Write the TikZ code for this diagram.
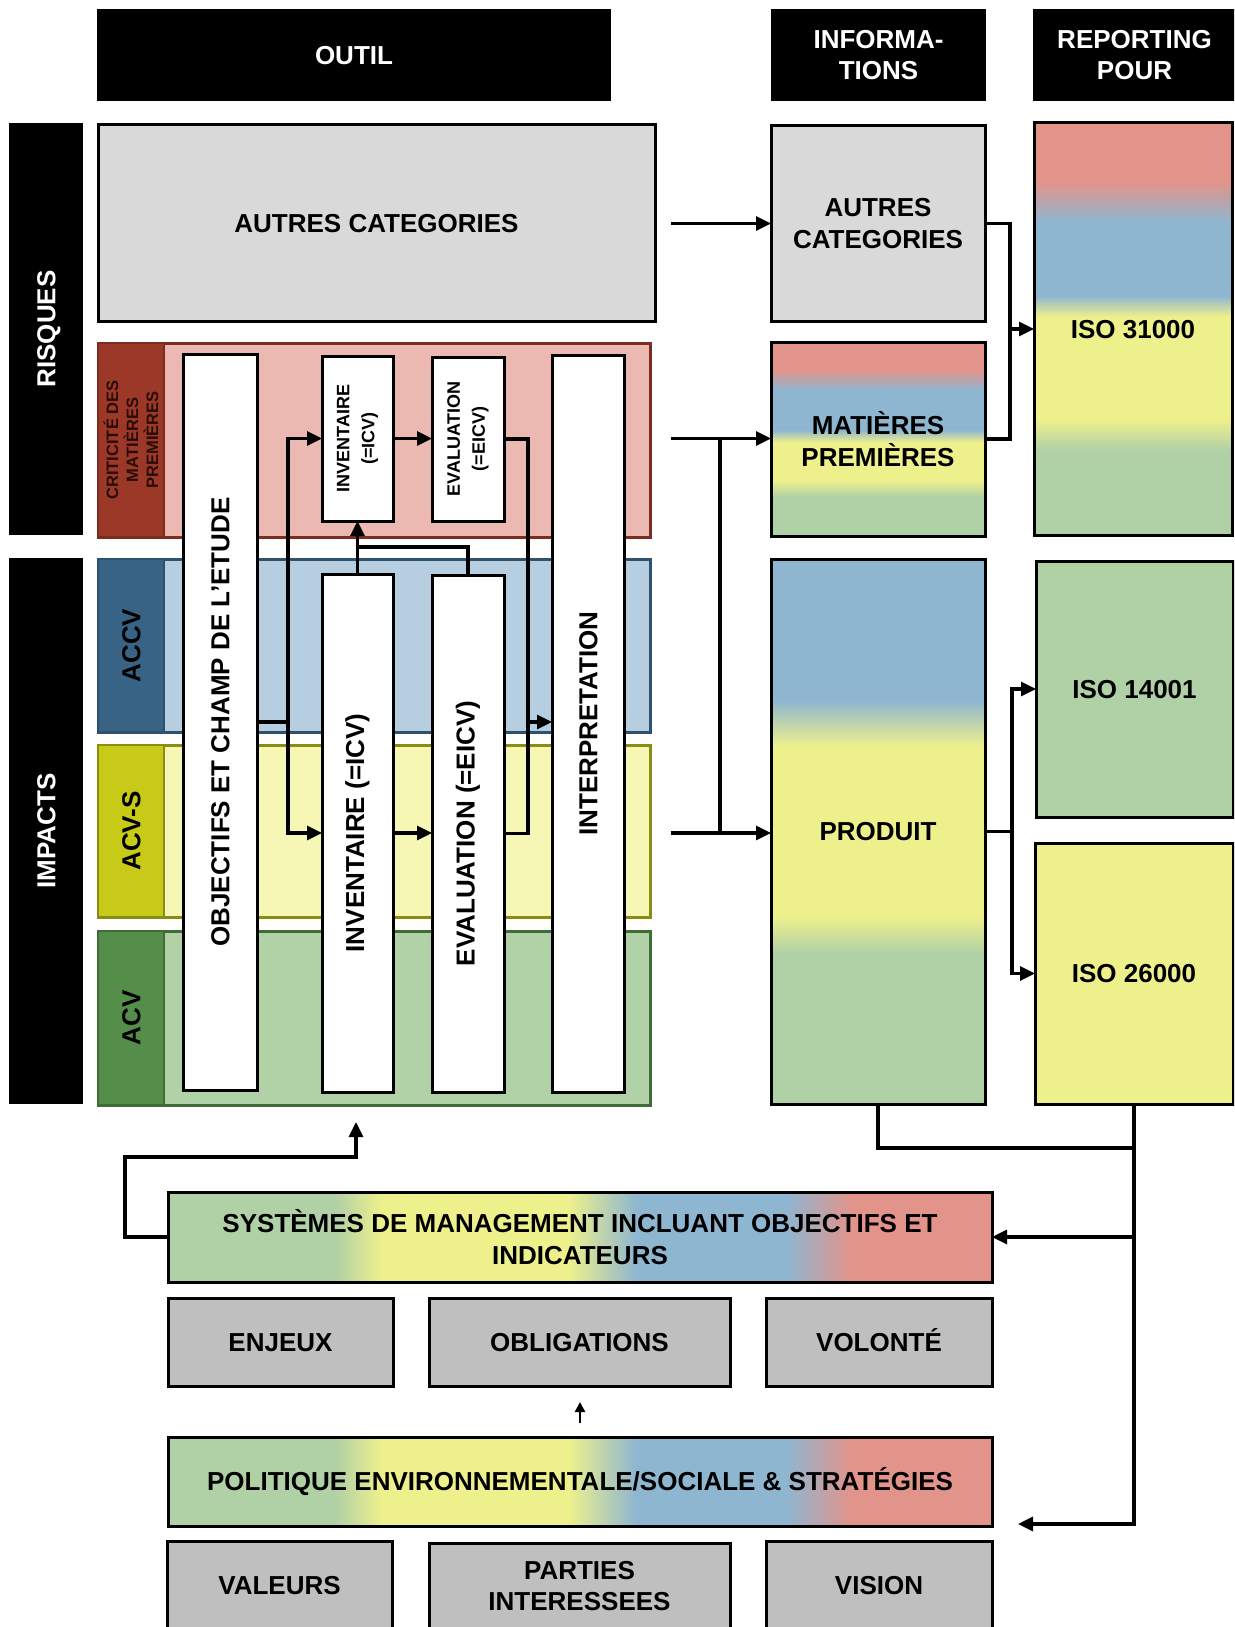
\documentclass[tikz,border=0pt]{standalone}
\usepackage{fontspec}
\setmainfont{Liberation Sans}
\usetikzlibrary{arrows.meta}
\definecolor{cred}{HTML}{E2938A}
\definecolor{cblue}{HTML}{8FB6D0}
\definecolor{cyellow}{HTML}{EEF08C}
\definecolor{cgreen}{HTML}{B0D0A6}
\definecolor{lgray}{HTML}{D9D9D9}
\definecolor{mgray}{HTML}{BFBFBF}
\definecolor{rfill}{HTML}{EBB8B2}
\definecolor{rstrip}{HTML}{9C3828}
\definecolor{rborder}{HTML}{7C2C20}
\definecolor{bfill}{HTML}{B7CEE1}
\definecolor{bstrip}{HTML}{386384}
\definecolor{bborder}{HTML}{2E516E}
\definecolor{yfill}{HTML}{F6F6B5}
\definecolor{ystrip}{HTML}{C8CA18}
\definecolor{yborder}{HTML}{8B8C12}
\definecolor{gfill}{HTML}{B1D1A7}
\definecolor{gstrip}{HTML}{558D4A}
\definecolor{gborder}{HTML}{3F6C37}
\definecolor{critxt}{HTML}{2A0C06}
\pgfdeclareverticalshading{matgrad}{100bp}{color(0bp)=(cgreen); color(35bp)=(cgreen); color(39.4bp)=(cyellow); color(49.2bp)=(cyellow); color(52.3bp)=(cblue); color(62.6bp)=(cblue); color(67.8bp)=(cred); color(100bp)=(cred)}
\pgfdeclareverticalshading{isograd}{100bp}{color(0bp)=(cgreen); color(35.2bp)=(cgreen); color(39.1bp)=(cyellow); color(51.5bp)=(cyellow); color(54bp)=(cblue); color(63bp)=(cblue); color(67.8bp)=(cred); color(100bp)=(cred)}
\pgfdeclareverticalshading{prodgrad}{100bp}{color(0bp)=(cgreen); color(38.85bp)=(cgreen); color(42.2bp)=(cyellow); color(57.8bp)=(cyellow); color(62bp)=(cblue); color(100bp)=(cblue)}
\pgfdeclarehorizontalshading{hgrad}{100bp}{color(0bp)=(cgreen); color(35.1bp)=(cgreen); color(38bp)=(cyellow); color(49.3bp)=(cyellow); color(53.4bp)=(cblue); color(62.5bp)=(cblue); color(66.5bp)=(cred); color(100bp)=(cred)}
\newcommand{\bigtxt}{\fontsize{26}{31.5}\selectfont\bfseries}
\newcommand{\smalltxt}{\fontsize{18}{25}\selectfont\bfseries}
\newcommand{\critxtfont}{\fontsize{16.5}{20}\selectfont\bfseries}
\begin{document}
\begin{tikzpicture}[x=1pt,y=-1pt,
  every node/.style={inner sep=0pt, outer sep=0pt},
  txt/.style={font=\bigtxt, align=center},
  one/.style={text height=18.7pt, text depth=0pt},
  boxs/.style={draw, line width=3pt, rectangle, txt},
  blk/.style={fill=black, rectangle, txt, text=white},
  wht/.style={boxs, fill=white},
  band/.style={rectangle, line width=3pt, minimum width=552pt},
  strip/.style={rectangle, line width=2pt, minimum width=66pt},
  rot/.style={txt, rotate=90},
  line/.style={line width=3.2pt, draw=black},
  arr/.style={line, -{Triangle[length=15pt,width=14pt]}},
]
\useasboundingbox (0,0) rectangle (1234,1627);
\clip (0,0) rectangle (1234,1627);

% headers
\node[blk, one, minimum width=514pt, minimum height=92pt] (houtil) at (354,55) {OUTIL};
\node[blk, minimum width=215pt, minimum height=92pt] (hinfo) at (878.5,55) {INFORMA-\\TIONS};
\node[blk, minimum width=203pt, minimum height=92pt] (hrep) at (1134.5,55) {REPORTING\\POUR};

% side labels
\node[blk, minimum width=74pt, minimum height=412pt] (risques) at (46,329) {};
\node[rot, one, text=white] at (risques) {RISQUES};
\node[blk, minimum width=74pt, minimum height=546pt] (impacts) at (46,831) {};
\node[rot, one, text=white] at (impacts) {IMPACTS};

% autres categories (outil)
\node[boxs, one, fill=lgray, minimum width=557pt, minimum height=196pt] (oautres) at (376.5,223) {AUTRES CATEGORIES};

% bands
\node[band, draw=rborder, fill=rfill, minimum height=194pt] (bred) at (374,440) {};
\node[strip, draw=rborder, fill=rstrip, minimum height=194pt] (sred) at (131,440) {};
\node[rot, font=\critxtfont, text=critxt] at (sred) {CRITICITÉ DES\\MATIÈRES\\PREMIÈRES};

\node[band, draw=bborder, fill=bfill, minimum height=173pt] (bblue) at (374,645.5) {};
\node[strip, draw=bborder, fill=bstrip, minimum height=173pt] (sblue) at (131,645.5) {};
\node[rot, one] at (sblue) {ACCV};

\node[band, draw=yborder, fill=yfill, minimum height=172pt] (byel) at (374,831) {};
\node[strip, draw=yborder, fill=ystrip, minimum height=172pt] (syel) at (131,831) {};
\node[rot, one] at (syel) {ACV-S};

\node[band, draw=gborder, fill=gfill, minimum height=174pt] (bgreen) at (374,1018) {};
\node[strip, draw=gborder, fill=gstrip, minimum height=174pt] (sgreen) at (131,1018) {};
\node[rot, one] at (sgreen) {ACV};

% white boxes
\node[wht, minimum width=74pt, minimum height=736pt] (obj) at (220,722) {};
\node[rot, one] at (obj) {OBJECTIFS ET CHAMP DE L’ETUDE};
\node[wht, minimum width=71pt, minimum height=165pt] (invs) at (357.5,438.5) {};
\node[rot, font=\smalltxt] at (invs) {INVENTAIRE\\(=ICV)};
\node[wht, minimum width=72pt, minimum height=164pt] (evals) at (468,439) {};
\node[rot, font=\smalltxt] at (evals) {EVALUATION\\(=EICV)};
\node[wht, minimum width=71pt, minimum height=518pt] (invb) at (357.5,833) {};
\node[rot] at (invb) {INVENTAIRE (=ICV)};
\node[wht, minimum width=72pt, minimum height=517pt] (evalb) at (468,833.5) {};
\node[rot] at (evalb) {EVALUATION (=EICV)};
\node[wht, minimum width=72pt, minimum height=737pt] (interp) at (588,723.5) {};
\node[rot, one] at (interp) {INTERPRETATION};

% information boxes
\node[boxs, fill=lgray, minimum width=214pt, minimum height=195pt] (iautres) at (878,223.5) {AUTRES\\CATEGORIES};
\node[boxs, shade, shading=matgrad, minimum width=214pt, minimum height=194pt] (imat) at (878,439) {MATIÈRES\\PREMIÈRES};
\node[boxs, one, shade, shading=prodgrad, minimum width=214pt, minimum height=545pt] (iprod) at (878,831.5) {PRODUIT};

% reporting boxes
\node[boxs, one, shade, shading=isograd, minimum width=198pt, minimum height=412pt] (iso31) at (1133,329) {ISO 31000};
\node[boxs, one, fill=cgreen, minimum width=197pt, minimum height=256pt] (iso14) at (1134.5,689) {ISO 14001};
\node[boxs, one, fill=cyellow, minimum width=198pt, minimum height=261pt] (iso26) at (1134,973.5) {ISO 26000};

% bottom boxes
\node[boxs, shade, shading=hgrad, minimum width=824pt, minimum height=90pt] (sys) at (580,1237) {SYSTÈMES DE MANAGEMENT INCLUANT OBJECTIFS ET\\INDICATEURS};
\node[boxs, one, fill=mgray, minimum width=225pt, minimum height=88pt] (enjeux) at (280.5,1342) {ENJEUX};
\node[boxs, one, fill=mgray, minimum width=301pt, minimum height=88pt] (oblig) at (579.5,1342) {OBLIGATIONS};
\node[boxs, one, fill=mgray, minimum width=226pt, minimum height=88pt] (volonte) at (879,1342) {VOLONTÉ};
\node[boxs, one, shade, shading=hgrad, minimum width=824pt, minimum height=89pt] (pol) at (580,1481.5) {POLITIQUE ENVIRONNEMENTALE/SOCIALE \& STRATÉGIES};
\node[boxs, one, fill=mgray, minimum width=225pt, minimum height=88pt] (valeurs) at (279.5,1585) {VALEURS};
\node[boxs, fill=mgray, minimum width=301pt, minimum height=86pt] (parties) at (579.5,1586) {PARTIES\\INTERESSEES};
\node[boxs, one, fill=mgray, minimum width=226pt, minimum height=88pt] (vision) at (879,1585) {VISION};

% connectors inside the tool
\coordinate (jo) at (288,722);
\draw[line] (obj.east |- jo) -- (jo);
\draw[arr] (jo) |- (invs.west);
\draw[arr] (jo) |- (invb.west);
\draw[arr] (invs.east) -- (invs.east -| evals.west);
\draw[arr] (invb.east) -- (invb.east -| evalb.west);
\coordinate (je) at (528,722);
\draw[line] (evals.east) -| (je);
\draw[line] (evalb.east) -| (je);
\draw[arr] (je) -- (je -| interp.west);
\coordinate (jt) at (357.5,547);
\draw[line] (evalb.north) |- (jt);
\draw[arr] (invb.north) -- (invs.south);

% tool -> informations
\coordinate (sa) at (671,223.5);
\draw[arr] (sa) -- (iautres.west);
\coordinate (sm) at (671,438.5);
\coordinate (sp) at (671,833);
\coordinate (jm) at (720,438.5);
\coordinate (jp) at (720,833);
\draw[arr] (sm) -- (sm -| imat.west);
\draw[arr] (sp) -- (sp -| iprod.west);
\draw[line] (jm) -- (jp);

% informations -> reporting
\coordinate (jr) at (1010,329);
\draw[line] (iautres.east) -| (jr);
\draw[line] (imat.east) -| (jr);
\draw[arr] (jr) -- (jr -| iso31.west);
\coordinate (jq) at (1012,831.5);
\draw[line] (iprod.east) -- (jq);
\draw[arr] (jq) |- (iso14.west);
\draw[arr] (jq) |- (iso26.west);

% bottom feedback
\coordinate (jb) at (1134,1148);
\coordinate (js) at (1134,1237);
\coordinate (jbot) at (1134,1524);
\coordinate (ptip) at (1018,1524);
\draw[line] (iprod.south) |- (jb);
\draw[arr] (iso26.south) -- (jbot) -- (ptip);
\draw[arr] (js) -- (sys.east);
\coordinate (kl) at (125,1157);
\coordinate (ktip) at (356,1122);
\draw[arr] (sys.west) -| (kl) -| (ktip);
\coordinate (ua) at (580,1423);
\coordinate (ub) at (580,1402);
\draw[line width=2.4pt, -{Triangle[length=10pt,width=10pt]}] (ua) -- (ub);
\end{tikzpicture}
\end{document}
